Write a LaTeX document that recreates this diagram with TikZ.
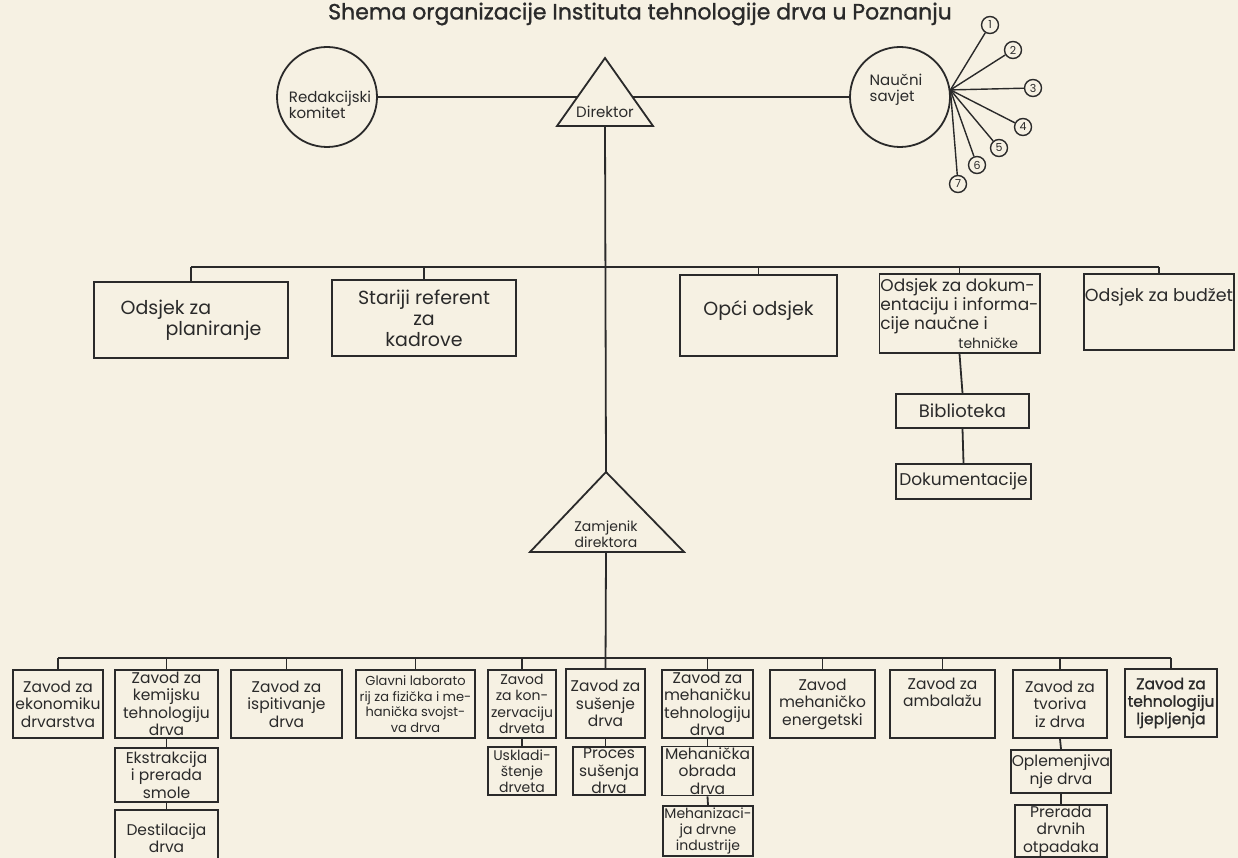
\documentclass[tikz,border=0pt]{standalone}
\usepackage{fontspec}
\setmainfont{Poppins}
\newfontfamily\titlefont[FakeBold=1.2]{Poppins}
\usetikzlibrary{calc}
\definecolor{paper}{HTML}{F6F1E3}
\definecolor{ink}{HTML}{2A2A2A}
\tikzset{
  conn/.style={draw=ink, line width=1.8pt},
  box/.style={draw=ink, line width=1.8pt, rectangle, inner sep=1pt, align=center, text=ink,
    font=\fontsize{15.5}{17.5}\selectfont},
  mbox/.style={box, font=\fontsize{19}{21}\selectfont},
  circ/.style={draw=ink, line width=1.8pt, circle, minimum size=100pt, inner sep=0pt},
  ctext/.style={text=ink, inner sep=0pt, align=left, font=\fontsize{15}{16}\selectfont},
  ttext/.style={text=ink, inner sep=0pt, align=center, font=\fontsize{15}{16}\selectfont},
  num/.style={draw=ink, line width=1.4pt, circle, minimum size=17pt, inner sep=0pt, text=ink,
    font=\fontsize{11}{11}\selectfont},
  titlestyle/.style={text=ink, inner sep=0pt, font=\titlefont\fontsize{22}{24}\selectfont},
}
\newcommand\ob[7][]{\node[box,minimum width={(#5)-(#3)},minimum height={(#6)-(#4)},#1] (#2) at ({((#3)+(#5))/2},{((#4)+(#6))/2}) {#7};}
\begin{document}
\begin{tikzpicture}[x=1pt,y=-1pt]
\fill[paper] (0,0) rectangle (1238,858);
\useasboundingbox (0,0) rectangle (1238,858);

\node[titlestyle] (title) at (640,14) {Shema organizacije Instituta tehnologije drva u Poznanju};

% ---- top row
\node[circ] (redak) at (327,97) {};
\node[ctext] (redaktxt) at (330,105) {Redakcijski\\komitet};
\coordinate (dA) at (605,58);
\coordinate (dL) at (557,126);
\coordinate (dR) at (653,126);
\coordinate (dB) at (605,126);
\draw[conn, line join=miter] (dA) -- (dL) -- (dR) -- cycle;
\node[ttext] (dir) at (605,112) {Direktor};
\node[circ] (naucni) at (900,97) {};
\node[ctext] (nauctxt) at (896,90) {Naučni\\savjet};
\draw[conn] (redak.east) -- ($(dA)!0.5735!(dL)$);
\draw[conn] ($(dA)!0.5735!(dR)$) -- (naucni.west);

\coordinate (hub) at (naucni.8);
\node[num] (n1) at (990,25) {1};
\node[num] (n2) at (1013,50) {2};
\node[num] (n3) at (1033,88) {3};
\node[num] (n4) at (1023,127) {4};
\node[num] (n5) at (999,148) {5};
\node[num] (n6) at (977,165) {6};
\node[num] (n7) at (958,184) {7};
\foreach \i in {1,...,7} \draw[conn, line width=1.4pt] (hub) -- (n\i);

% ---- middle row
\coordinate (mbus) at (0,267);
\ob[mbox,align=left]{plan}{94}{282}{288}{358}{Odsjek za\\\hspace*{45pt}planiranje}
\ob[mbox]{star}{332}{280}{516}{356}{Stariji referent\\za\\kadrove}
\ob[mbox]{opci}{680}{275}{837}{356}{Opći odsjek\\[-6pt]\mbox{}}
\ob[box,align=left,font=\fontsize{17}{19}\selectfont]{dok}{881}{274}{1038}{353}{Odsjek za dokum-\\entaciju i informa-\\cije naučne i\\\hspace*{78pt}{\fontsize{14}{15}\selectfont tehničke}}
\ob[mbox,font=\fontsize{17.5}{20}\selectfont]{budzet}{1084}{274}{1234}{350}{Odsjek za budžet\\[14pt]\mbox{}}
\ob[mbox,font=\fontsize{18}{20}\selectfont]{bib}{896}{394}{1029}{428}{Biblioteka}
\ob[mbox,font=\fontsize{17}{20}\selectfont]{dokum}{896}{464}{1031}{499}{Dokumentacije}

\draw[conn] (plan.north |- mbus) -- (budzet.north |- mbus);
\foreach \b in {plan,star,opci,dok,budzet} \draw[conn] (\b.north) -- (\b.north |- mbus);
\draw[conn] (dok.south) -- (bib.north);
\draw[conn] (bib.south) -- (dokum.north);

% ---- deputy
\coordinate (zA) at (606,472);
\coordinate (zL) at (530,552);
\coordinate (zR) at (684,552);
\coordinate (zB) at (606,552);
\draw[conn, line join=miter] (zA) -- (zL) -- (zR) -- cycle;
\node[ttext, font=\fontsize{14}{16}\selectfont] (zam) at (606,534) {Zamjenik\\direktora};
\draw[conn] (dB) -- (zA);

% ---- bottom row
\coordinate (bbus) at (0,658);
\ob{ekon}{13}{670}{103}{738}{Zavod za\\ekonomiku\\drvarstva}
\ob{kem}{115}{670}{218}{738}{Zavod za\\kemijsku\\tehnologiju\\drva}
\ob{ispit}{231}{670}{342}{738}{Zavod za\\ispitivanje\\drva}
\ob[font=\fontsize{13}{15.5}\selectfont]{glavni}{356}{670}{475}{738}{Glavni laborato\\rij za fizička i me-\\hanička svojst-\\va drva}
\ob[font=\fontsize{14}{16.5}\selectfont]{konz}{488}{670}{556}{738}{Zavod\\za kon-\\zervaciju\\drveta}
\ob{susenje}{566}{669}{645}{738}{Zavod za\\sušenje\\drva}
\ob{mehtech}{662}{670}{753}{738}{Zavod za\\mehaničku\\tehnologiju\\drva}
\ob{energ}{770}{670}{875}{738}{Zavod\\mehaničko\\energetski}
\ob{ambal}{890}{670}{995}{738}{Zavod za\\ambalažu\\[6pt]\mbox{}}
\ob{tvoriva}{1013}{670}{1107}{738}{Zavod za\\tvoriva\\iz drva}
\ob[font=\titlefont\fontsize{15.5}{17.5}\selectfont]{lijep}{1125}{669}{1217}{737}{Zavod za\\tehnologiju\\ljepljenja}

\ob{ekstr}{115}{748}{218}{802}{Ekstrakcija\\i prerada\\smole}
\ob{destil}{115}{810}{218}{866}{Destilacija\\drva}
\ob[font=\fontsize{14}{16}\selectfont]{uskl}{488}{747}{556}{795}{Uskladi-\\štenje\\drveta}
\ob{proces}{573}{747}{645}{795}{Proces\\sušenja\\drva}
\ob{mehobr}{662}{747}{753}{795}{Mehanička\\obrada\\drva}
\ob[font=\fontsize{14}{16}\selectfont]{mehaniz}{663}{806}{753}{856}{Mehanizaci-\\ja drvne\\industrije}
\ob{oplem}{1015}{750}{1107}{793}{Oplemenjiva\\nje drva}
\ob{prerada}{1015}{806}{1107}{856}{Prerada\\drvnih\\otpadaka}

\draw[conn] (ekon.north |- bbus) -- (lijep.north |- bbus);
\foreach \b in {ekon,kem,ispit,glavni,konz,mehtech,energ,ambal,tvoriva,lijep} \draw[conn] (\b.north) -- (\b.north |- bbus);
\draw[conn] (zB) -- (susenje.north);
\draw[conn] (kem.south) -- (ekstr.north);
\draw[conn] (ekstr.south) -- (destil.north);
\draw[conn] (konz.south) -- (uskl.north);
\draw[conn] (susenje.south) -- (proces.north -| susenje.south);
\draw[conn] (mehtech.south) -- (mehobr.north);
\draw[conn] (mehobr.south) -- (mehaniz.north);
\draw[conn] (tvoriva.south) -- (oplem.north);
\draw[conn] (oplem.south) -- (prerada.north);
\end{tikzpicture}
\end{document}
